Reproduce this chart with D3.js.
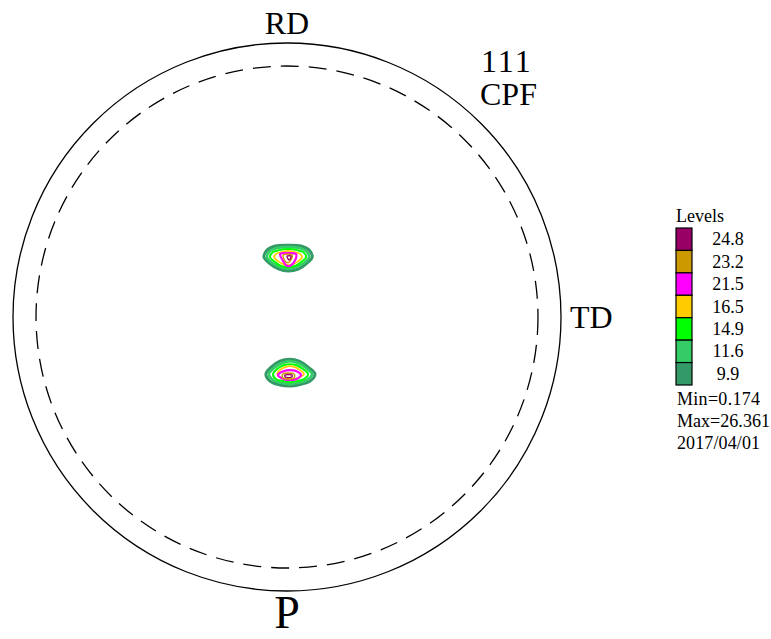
<!DOCTYPE html>
<html>
<head>
  <meta charset='utf-8'>
  <title>111 CPF pole figure</title>
  <script src="https://cdnjs.cloudflare.com/ajax/libs/d3/7.8.5/d3.min.js"></script>
  <style>
    body { margin: 0; background: #fff; }
    text { font-family: "Liberation Serif", "Times New Roman", serif; fill: #000; }
  </style>
</head>
<body>
  <svg width="771" height="639" id="pole"></svg>
  <script>
    // contour levels, top of legend first
    const levels = [24.8, 23.2, 21.5, 16.5, 14.9, 11.6, 9.9];
    const levelColors = ['#990066', '#cc9900', '#ff00ff', '#ffcc00', '#00ff00', '#33cc66', '#339966'];
    const minValue = 0.174;
    const maxValue = 26.361;
    const dateLabel = '2017/04/01';

    // spot centres in % of the pole-figure radius (TD to the right, RD up)
    const spotCenters = [[0.4, 21.5], [1.1, -20.1]];

    // contour rings per spot, offsets from the spot centre, same units
    const spot1Rings = [
      { level: 9.9, pts: [[-8.8,0.4],[-7.7,2.9],[-4.7,4.4],[0,4.7],[4.7,4.4],[7.7,2.9],[8.8,0.4],[6.9,-1.8],[3.7,-4.0],[0,-4.7],[-3.3,-4.0],[-6.9,-1.8]] },
      { level: 11.6, pts: [[-7.7,0.4],[-6.6,2.6],[-4.0,3.7],[0,4.0],[4.0,3.7],[6.6,2.6],[7.7,0.4],[5.8,-1.8],[2.9,-3.3],[0,-4.0],[-2.9,-3.3],[-5.8,-1.8]] },
      { level: 14.9, pts: [[-6.6,0.4],[-5.5,2.2],[-3.3,2.9],[0,3.3],[3.3,2.9],[5.5,2.2],[6.6,0.4],[4.7,-1.5],[2.6,-2.9],[0,-3.3],[-2.6,-2.9],[-4.7,-1.5]] },
      { level: 16.5, pts: [[-5.1,0.4],[-4.0,1.8],[-2.2,2.2],[0,2.6],[2.2,2.2],[4.0,1.8],[5.1,0.4],[3.7,-1.1],[1.8,-2.2],[0,-2.6],[-1.8,-2.2],[-3.7,-1.1]] },
      { level: 21.5, pts: [[-2.9,1.5],[0,1.8],[2.9,1.5],[2.6,-0.7],[1.1,-2.6],[-0.4,-2.9],[-1.8,-1.1]] },
      { level: 23.2, pts: [[-1.8,1.1],[1.5,1.1],[0.4,-1.5],[-0.7,-1.5]] },
      { level: 24.8, pts: [[-0.4,0.7],[1.1,0.7],[0.4,-0.7]] }
    ];
    const spot2Rings = [
      { level: 9.9, pts: [[-8.8,-0.7],[-6.9,1.8],[-3.7,4.0],[0,4.7],[3.3,4.0],[6.6,1.8],[9.1,-0.7],[7.3,-3.3],[2.9,-4.7],[0,-5.1],[-3.7,-4.7],[-7.3,-3.3]] },
      { level: 11.6, pts: [[-7.7,-0.7],[-5.8,1.5],[-2.9,3.3],[0,4.0],[2.9,3.3],[5.8,1.5],[8.0,-0.7],[6.2,-2.9],[2.6,-4.0],[0,-4.4],[-2.9,-4.0],[-6.2,-2.9]] },
      { level: 14.9, pts: [[-6.2,-0.7],[-4.7,1.1],[-2.2,2.6],[0,2.9],[2.2,2.6],[4.7,1.1],[6.6,-0.7],[5.1,-2.6],[2.2,-3.3],[0,-3.7],[-2.2,-3.3],[-5.1,-2.6]] },
      { level: 16.5, pts: [[-4.7,-0.7],[-3.7,0.7],[-1.8,1.8],[0,2.2],[1.8,1.8],[3.7,0.7],[5.1,-0.7],[3.7,-1.8],[1.5,-2.6],[0,-2.6],[-1.8,-2.6],[-3.7,-1.8]] },
      { level: 21.5, pts: [[-4.4,-1.1],[-2.2,0.4],[0,0.7],[2.2,0.4],[4.0,-1.1],[2.2,-2.6],[0,-2.9],[-2.2,-2.6]] },
      { level: 23.2, pts: [[-2.6,-0.7],[1.5,-0.7],[1.5,-2.2],[-2.6,-2.2]] },
      { level: 24.8, pts: [[-1.8,-1.1],[0.7,-1.1],[0.7,-1.8],[-1.8,-1.8]] }
    ];
    const spots = [spot1Rings, spot2Rings];
    const dashedRadius = 91.6;

    const svg = d3.select('#pole');
    const cx = 287, cy = 317, R = 274;

    const x = d3.scaleLinear().domain([-100, 100]).range([cx - R, cx + R]);
    const y = d3.scaleLinear().domain([-100, 100]).range([cy + R, cy - R]);
    const color = d3.scaleOrdinal().domain(levels).range(levelColors);
    const widths = { 9.9: 3, 11.6: 2.6, 14.9: 2, 16.5: 1.8, 21.5: 2.2, 23.2: 1.4, 24.8: 1.4 };

    // outer circle + dashed circle
    svg.append('circle')
      .attr('cx', x(0)).attr('cy', y(0)).attr('r', x(100) - x(0))
      .attr('fill', 'none').attr('stroke', '#000').attr('stroke-width', 1.3);
    svg.append('circle')
      .attr('cx', x(0)).attr('cy', y(0)).attr('r', x(dashedRadius) - x(0))
      .attr('fill', 'none').attr('stroke', '#000').attr('stroke-width', 1.3)
      .attr('stroke-dasharray', '18 10');

    // contours
    spots.forEach((rings, si) => {
      const c = spotCenters[si];
      const line = d3.line()
        .x(d => x(c[0] + d[0]))
        .y(d => y(c[1] + d[1]))
        .curve(d3.curveCatmullRomClosed.alpha(0.5));
      svg.append('g').selectAll('path')
        .data(rings)
        .join('path')
        .attr('d', d => line(d.pts))
        .attr('fill', 'none')
        .attr('stroke', d => color(d.level))
        .attr('stroke-width', d => widths[d.level]);
    });

    // axis labels
    svg.append('text').attr('x', x(0)).attr('y', 34).attr('text-anchor', 'middle')
      .style('font-size', '32px').text('RD');
    svg.append('text').attr('x', x(100) + 9).attr('y', 328)
      .style('font-size', '32px').text('TD');
    svg.append('text').attr('x', x(0)).attr('y', 628).attr('text-anchor', 'middle')
      .style('font-size', '46px').text('P');
    svg.append('text').attr('x', 481).attr('y', 72)
      .style('font-size', '32px').attr('letter-spacing', '2px').text('111');
    svg.append('text').attr('x', 480).attr('y', 105)
      .style('font-size', '32px').text('CPF');

    // legend
    const legend = svg.append('g');
    const row = d3.scaleLinear().domain([0, levels.length]).range([228, 385]);
    legend.append('text').attr('x', 676).attr('y', 222).style('font-size', '18px').text('Levels');
    legend.selectAll('rect')
      .data(levels)
      .join('rect')
      .attr('x', 676).attr('y', (d, i) => row(i))
      .attr('width', 16).attr('height', row(1) - row(0))
      .attr('fill', d => color(d))
      .attr('stroke', '#000').attr('stroke-width', 1.2);
    legend.selectAll('text.lv')
      .data(levels)
      .join('text')
      .attr('class', 'lv')
      .attr('x', 728).attr('y', (d, i) => row(i + 0.5) + 6)
      .attr('text-anchor', 'middle')
      .style('font-size', '18px')
      .text(d => d.toFixed(1));
    legend.append('text').attr('x', 677).attr('y', 405).style('font-size', '18px')
      .attr('textLength', 83).text('Min=' + minValue);
    legend.append('text').attr('x', 677).attr('y', 427).style('font-size', '18px')
      .attr('textLength', 93).attr('lengthAdjust', 'spacingAndGlyphs').text('Max=' + maxValue);
    legend.append('text').attr('x', 677).attr('y', 449).style('font-size', '18px')
      .attr('textLength', 83).text(dateLabel);
  </script>
</body>
</html>
